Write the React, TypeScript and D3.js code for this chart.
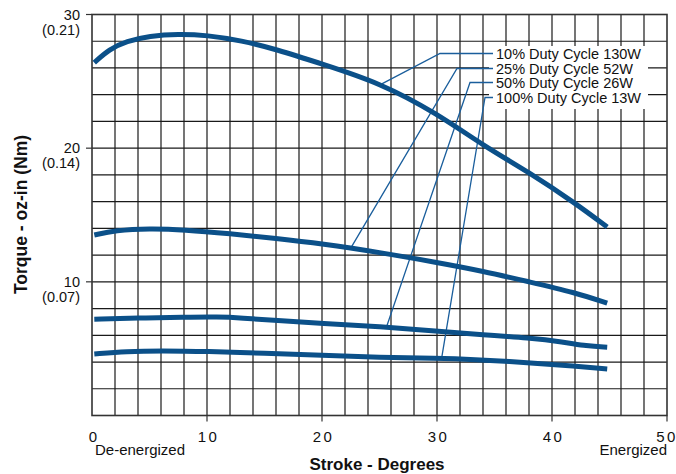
import * as d3 from "d3";

// Stroke (degrees) / torque (oz-in)
const s10x = [0.2, 1.5, 3, 5, 7.5, 10, 13, 16, 20, 25, 30, 34, 38, 42, 44.8];
const s10y = [26.4, 27.4, 28.0, 28.4, 28.55, 28.45, 28.05, 27.4, 26.3, 24.9, 22.6, 20.2, 18.2, 15.9, 14.1];

const s25x = [0.2, 2, 5, 8, 12, 16, 20, 25, 30, 34, 38, 42, 44.8];
const s25y = [13.5, 13.85, 14.0, 13.9, 13.6, 13.25, 12.85, 12.2, 11.45, 10.8, 10.0, 9.2, 8.4];

const s50x = [0.2, 4, 8, 11, 13, 16, 20, 25, 30, 34, 38, 41, 43, 44.8];
const s50y = [7.2, 7.3, 7.35, 7.38, 7.3, 7.1, 6.9, 6.65, 6.3, 6.05, 5.8, 5.5, 5.2, 5.1];

const s100x = [0.2, 3, 6, 10, 15, 20, 25, 30, 33, 38, 42, 44.8];
const s100y = [4.6, 4.8, 4.85, 4.8, 4.65, 4.5, 4.35, 4.28, 4.2, 3.95, 3.7, 3.48];

const seriesNames = [
  "10% Duty Cycle 130W",
  "25% Duty Cycle 52W",
  "50% Duty Cycle 26W",
  "100% Duty Cycle 13W",
];
// stroke position where each callout line meets its curve
const calloutAt = [25.2, 22.5, 25.6, 30.4];

const xTicks = [0, 10, 20, 30, 40, 50];
const yTicks = [10, 20, 30];
const yTickNm = ["(0.07)", "(0.14)", "(0.21)"];

const W = 676;
const H = 474;
const blue = "#0b5089";
const font = "'Liberation Sans', Arial, sans-serif";

export default function App() {
  const x = d3.scaleLinear().domain([0, 50]).range([92, 667]);
  const y = d3.scaleLinear().domain([0, 30]).range([415.5, 14.5]);

  const series = [
    d3.zip(s10x, s10y),
    d3.zip(s25x, s25y),
    d3.zip(s50x, s50y),
    d3.zip(s100x, s100y),
  ] as [number, number][][];

  const line = d3
    .line<[number, number]>()
    .x(d => x(d[0]))
    .y(d => y(d[1]))
    .curve(d3.curveBasis);

  const gridX = d3.range(2, 50, 2);
  const gridY = d3.range(2, 30, 2);

  // linear lookup on a series for the callout end point
  const valueAt = (pts: [number, number][], sx: number) => {
    const i = Math.max(1, d3.bisector((d: [number, number]) => d[0]).left(pts, sx));
    const a = pts[i - 1], b = pts[i];
    return a[1] + ((sx - a[0]) / (b[0] - a[0])) * (b[1] - a[1]);
  };

  const legendX = 496;
  const rowBase = [59, 74, 88, 103];
  const elbowX = [440, 457, 470, 485];

  return (
    <svg
      width={W}
      height={H}
      style={{ position: "absolute", left: 0, top: 0, background: "#fff" }}
      fontFamily={font}
    >
      {/* grid */}
      <g stroke="#1a1a1a" strokeWidth={1.2}>
        {gridX.map(v => (
          <line key={"gx" + v} x1={x(v)} x2={x(v)} y1={y(0)} y2={y(30)} />
        ))}
        {gridY.map(v => (
          <line key={"gy" + v} x1={x(0)} x2={x(50)} y1={y(v)} y2={y(v)} />
        ))}
      </g>
      <rect
        x={x(0)}
        y={y(30)}
        width={x(50) - x(0)}
        height={y(0) - y(30)}
        fill="none"
        stroke="#333"
        strokeWidth={1.6}
      />

      {/* ticks */}
      <g stroke="#333" strokeWidth={1.2}>
        {yTicks.map(v => (
          <line key={"yt" + v} x1={x(0) - 6} x2={x(0)} y1={y(v)} y2={y(v)} />
        ))}
        {xTicks.filter(v => v > 0).map(v => (
          <line key={"xt" + v} x1={x(v)} x2={x(v)} y1={y(0)} y2={y(0) + 6} />
        ))}
      </g>

      {/* legend box */}
      <rect x={489} y={46} width={159} height={63} fill="#fff" />

      {/* callout lines */}
      <g stroke="#1a5e9c" strokeWidth={1.3} fill="none">
        {series.map((pts, i) => {
          const sx = calloutAt[i];
          const sy = valueAt(pts, sx);
          const ly = rowBase[i] - 5.5;
          return (
            <polyline
              key={"c" + i}
              points={`${x(sx)},${y(sy)} ${elbowX[i]},${ly} 493,${ly}`}
            />
          );
        })}
      </g>

      {/* curves */}
      {series.map((pts, i) => (
        <path
          key={"s" + i}
          d={line(pts) ?? ""}
          fill="none"
          stroke={blue}
          strokeWidth={5}
        />
      ))}

      {/* legend text */}
      {seriesNames.map((n, i) => (
        <text key={"l" + i} x={legendX} y={rowBase[i]} fontSize={14.5} fill="#111">
          {n}
        </text>
      ))}

      {/* y tick labels */}
      {yTicks.map((v, i) => (
        <g key={"yl" + v} fontSize={14.5} fill="#111" textAnchor="end">
          <text x={80} y={y(v) + 5}>{v}</text>
          <text x={80} y={y(v) + 20}>{yTickNm[i]}</text>
        </g>
      ))}

      {/* x tick labels */}
      {xTicks.map(v => (
        <text
          key={"xl" + v}
          x={x(v) + (v === 0 ? 1 : v === 50 ? 0 : 1.5)}
          y={442}
          fontSize={15}
          fill="#111"
          textAnchor="middle"
          letterSpacing={v === 0 ? 0 : 2.5}
        >
          {v}
        </text>
      ))}
      <text x={95} y={455} fontSize={15} fill="#111">De-energized</text>
      <text x={667} y={455} fontSize={15} fill="#111" textAnchor="end">Energized</text>

      <text x={377} y={470} fontSize={17} fontWeight="bold" fill="#111" textAnchor="middle">
        Stroke - Degrees
      </text>
      <text
        transform="translate(27,214.5) rotate(-90)"
        fontSize={17.5}
        fontWeight="bold"
        fill="#111"
        textAnchor="middle"
      >
        Torque - oz-in (Nm)
      </text>
    </svg>
  );
}
